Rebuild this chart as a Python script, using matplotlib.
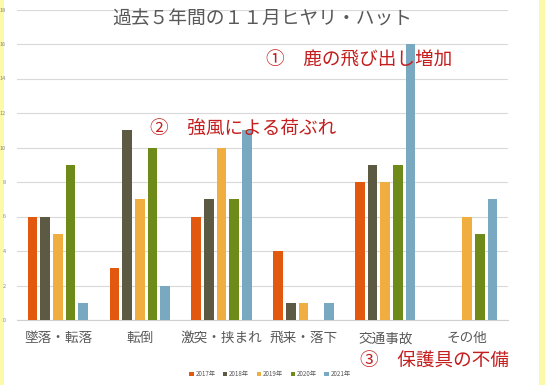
import matplotlib
matplotlib.use("Agg")
import numpy as np
import matplotlib.pyplot as plt

plt.rcParams['font.family'] = ['Noto Sans CJK JP', 'DejaVu Sans']

# ---- data ----
CATEGORIES = ["墜落・転落", "転倒", "激突・挟まれ", "飛来・落下", "交通事故", "その他"]
YEARS = ["2017年", "2018年", "2019年", "2020年", "2021年"]
V2017 = [6, 3, 6, 4, 8, 0]
V2018 = [6, 11, 7, 1, 9, 0]
V2019 = [5, 7, 10, 1, 8, 6]
V2020 = [9, 10, 7, 0, 9, 5]
V2021 = [1, 2, 11, 1, 16, 7]
SERIES = [V2017, V2018, V2019, V2020, V2021]
COLORS = ["#E2580F", "#5C5A43", "#F0AD40", "#6E8B1A", "#78A9C0"]
Y_TICKS = list(range(0, 19, 2))

W, H = 545, 385
fig = plt.figure(figsize=(W / 100, H / 100), dpi=100, facecolor="#FCFAA8")

# white card inside the yellow frame
bg = fig.add_axes([4 / W, 0, 535 / W, 1], zorder=-1)
bg.set_facecolor("white")
bg.set_xticks([])
bg.set_yticks([])
for s in bg.spines.values():
    s.set_visible(False)

ax = fig.add_axes([17 / W, 1 - 320 / H, 491 / W, 310.5 / H], zorder=1)
ax.set_facecolor("none")

x = np.arange(len(CATEGORIES))
step, width = 0.155, 0.118
for j, (vals, col, lab) in enumerate(zip(SERIES, COLORS, YEARS)):
    ax.bar(x + (j - 2) * step, vals, width=width, color=col, label=lab, zorder=3)

ax.set_xlim(-0.5, len(CATEGORIES) - 0.5)
ax.set_ylim(0, 18)
ax.set_yticks(Y_TICKS)
ax.set_yticklabels([str(t) for t in Y_TICKS], fontsize=4, color="#888888")
ax.set_xticks(x)
ax.set_xticklabels(CATEGORIES, fontsize=9.8, color="#595959")
ax.tick_params(axis="both", length=0)
ax.tick_params(axis="y", pad=8)
ax.tick_params(axis="x", pad=8)
ax.grid(True, axis="y", color="#D9D9D9", linewidth=0.8, zorder=0)
for s in ["top", "right", "left"]:
    ax.spines[s].set_visible(False)
ax.spines["bottom"].set_color("#D0D0D0")

fig.text(262 / W, 1 - 19 / H, "過去５年間の１１月ヒヤリ・ハット",
         ha="center", va="center", fontsize=13.5, color="#595959")

red = "#C41E1E"
fig.text(266 / W, 1 - 61 / H, "①　鹿の飛び出し増加", ha="left", va="center",
         fontsize=13.4, color=red, zorder=5)
fig.text(150 / W, 1 - 129 / H, "②　強風による荷ぶれ", ha="left", va="center",
         fontsize=13.4, color=red, zorder=5)
fig.text(360 / W, 1 - 362 / H, "③　保護具の不備", ha="left", va="center",
         fontsize=13.4, color=red, zorder=5)

fig.legend(loc="center", bbox_to_anchor=(270 / W, 1 - 374 / H), ncol=5,
           frameon=False, fontsize=4.5, handlelength=0.7, handleheight=0.7,
           handletextpad=0.3, columnspacing=1.2, labelcolor="#595959")

fig.savefig("out.png", dpi=100, facecolor=fig.get_facecolor())
